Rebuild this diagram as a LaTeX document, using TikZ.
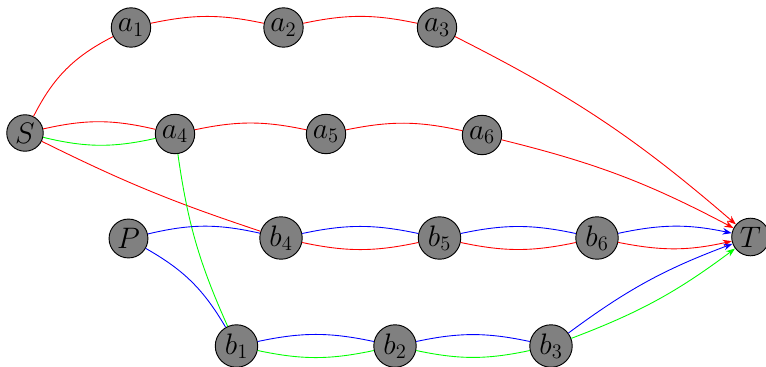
\documentclass[tikz,border=0pt]{standalone}
\usetikzlibrary{arrows.meta}
\begin{document}
\begin{tikzpicture}[x=0.7pt,y=-0.7pt,
  vert/.style={circle,draw=black,fill=gray,inner sep=2.1pt,line width=0.65pt,font=\huge},
  ed/.style={line width=0.62pt},
  re/.style={ed,red},
  gr/.style={ed,green},
  bl/.style={ed,blue},
  tip/.style={-{Stealth[length=6.3pt,width=4.6pt]}}
]
\useasboundingbox (0,0) rectangle (766,366);
\node[vert] (S) at (25,133) {$S$};
\node[vert] (a1) at (131,27.5) {$a_1$};
\node[vert] (a2) at (283.5,27.5) {$a_2$};
\node[vert] (a3) at (437,27.5) {$a_3$};
\node[vert] (a4) at (175,134) {$a_4$};
\node[vert] (a5) at (326,134) {$a_5$};
\node[vert] (a6) at (482,135) {$a_6$};
\node[vert] (P) at (128.5,238.5) {$P$};
\node[vert] (b4) at (281,238) {$b_4$};
\node[vert] (b5) at (439.5,238) {$b_5$};
\node[vert] (b6) at (597,238) {$b_6$};
\node[vert] (T) at (750.5,237) {$T$};
\node[vert] (b1) at (236.5,346) {$b_1$};
\node[vert] (b2) at (395,346) {$b_2$};
\node[vert] (b3) at (551,346) {$b_3$};

\draw[re] (S) to[bend left=18] (a1);
\draw[re] (a1) to[bend left=12] (a2);
\draw[re] (a2) to[bend left=12] (a3);
\draw[re,tip] (a3) to[bend left=7] (T);
\draw[re] (S) to[bend left=13] (a4);
\draw[gr] (S) to[bend right=13] (a4);
\draw[re] (a4) to[bend left=12] (a5);
\draw[re] (a5) to[bend left=12] (a6);
\draw[re,tip] (a6) to[bend left=7] (T);
\draw[re] (S) to[bend right=4] (b4);
\draw[gr] (a4) to[bend right=8] (b1);
\draw[bl] (P) to[bend left=13] (b4);
\draw[bl] (P) to[bend left=15] (b1);
\draw[bl] (b4) to[bend left=12] (b5);
\draw[re] (b4) to[bend right=12] (b5);
\draw[bl] (b5) to[bend left=12] (b6);
\draw[re] (b5) to[bend right=12] (b6);
\draw[bl,tip] (b6) to[bend left=12] (T);
\draw[re,tip] (b6) to[bend right=12] (T);
\draw[bl] (b1) to[bend left=12] (b2);
\draw[gr] (b1) to[bend right=12] (b2);
\draw[bl] (b2) to[bend left=12] (b3);
\draw[gr] (b2) to[bend right=12] (b3);
\draw[bl,tip] (b3) to[bend left=8] (T);
\draw[gr,tip] (b3) to[bend right=8] (T);
\end{tikzpicture}
\end{document}
